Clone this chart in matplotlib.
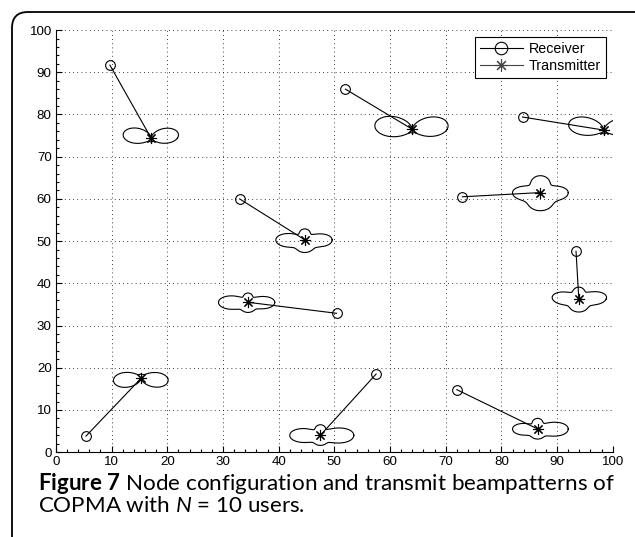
import numpy as np
import matplotlib.pyplot as plt
from matplotlib.patches import FancyBboxPatch
from matplotlib.transforms import IdentityTransform
from matplotlib.lines import Line2D
from matplotlib.ticker import MultipleLocator

plt.rcParams['font.family'] = ['Liberation Sans', 'DejaVu Sans']
plt.rcParams['mathtext.fontset'] = 'custom'
plt.rcParams['mathtext.rm'] = 'Lato'
plt.rcParams['mathtext.it'] = 'Lato:italic'
plt.rcParams['mathtext.bf'] = 'Lato:bold'

# receiver / transmitter positions
rx = [9.7, 52.0, 83.8, 33.0, 73.0, 93.4, 50.4, 5.4, 57.5, 72.0]
ry = [91.7, 86.0, 79.4, 60.0, 60.5, 47.6, 32.9, 3.8, 18.5, 14.8]
tx = [17.1, 64.0, 98.4, 44.7, 87.0, 93.9, 34.5, 15.3, 47.5, 86.5]
ty = [74.4, 76.5, 76.3, 50.3, 61.5, 36.3, 35.5, 17.5, 4.0, 5.5]

# beampattern lobes of each transmitter: direction (deg), length, sharpness
lobe_dirs = [[12, 168, 270], [10, 170, 270], [15, 165, 270],
             [0, 180, 90, 270], [0, 180, 90, 270], [5, 175, 90, 270],
             [0, 180, 90, 270], [-8, 188, 90], [0, 180, 90, 270],
             [0, 180, 90, 270]]
lobe_len = [[5.0, 5.1, 0.9], [6.5, 6.8, 0.9], [6.0, 6.5, 0.9],
            [4.9, 5.2, 2.6, 3.0], [5.0, 5.0, 4.0, 4.3], [5.0, 4.8, 2.8, 3.1],
            [4.8, 5.3, 2.2, 2.4], [4.9, 5.0, 1.0], [6.0, 5.5, 2.5, 2.4],
            [5.5, 4.5, 2.5, 2.4]]
lobe_pow = [[2.5, 2.5, 1], [2.5, 2.5, 1], [3, 3, 1],
            [4, 4, 2, 0.7], [4, 4, 1.5, 0.8], [4, 4, 2, 0.7],
            [4, 4, 2, 0.7], [2.5, 2.5, 1], [4, 4, 2, 0.7],
            [4, 4, 2, 0.7]]

fig = plt.figure(figsize=(6.35, 5.37), dpi=100)
ax = fig.add_axes([0.088, 0.158, 0.877, 0.786])

theta = np.linspace(0, 2 * np.pi, 721)
for i in range(len(tx)):
    r2 = np.zeros_like(theta)
    for d, a, p in zip(lobe_dirs[i], lobe_len[i], lobe_pow[i]):
        c = np.clip(np.cos(theta - np.radians(d)), 0, None)
        r2 += (a * c ** p) ** 2
    r = np.sqrt(r2)
    ax.plot(tx[i] + r * np.cos(theta), ty[i] + r * np.sin(theta),
            color='black', lw=0.8)

for i in range(len(tx)):
    ax.plot([rx[i], tx[i]], [ry[i], ty[i]], color='black', lw=0.8)
ax.plot(rx, ry, 'o', color='black', mfc='none', ms=7, mew=0.8)
ax.plot(tx, ty, marker=(8, 2, 0), ls='none', color='black', ms=8, mew=0.8)

ax.set_xlim(0, 100)
ax.set_ylim(0, 100)
ax.xaxis.set_major_locator(MultipleLocator(10))
ax.yaxis.set_major_locator(MultipleLocator(10))
ax.xaxis.set_minor_locator(MultipleLocator(2))
ax.yaxis.set_minor_locator(MultipleLocator(2))
ax.tick_params(which='both', direction='in', labelsize=9.6, width=0.8)
ax.tick_params(which='major', length=4.5, pad=3)
ax.tick_params(which='minor', length=2)
ax.grid(True, which='major', color='black', lw=0.6, ls=(0, (1, 4)))
ax.spines['top'].set_visible(False)
ax.spines['right'].set_visible(False)
ax.patch.set_alpha(0)

handles = [Line2D([], [], color='black', lw=0.8, marker='o', mfc='none', ms=9, mew=0.8),
           Line2D([], [], color='#444444', lw=0.8, marker=(8, 2, 0), ms=9, mew=0.8)]
leg = ax.legend(handles, ['Receiver', 'Transmitter'], loc='upper right',
                bbox_to_anchor=(0.9874, 0.9834), borderaxespad=0, fontsize=10.3,
                fancybox=False, framealpha=1, edgecolor='black',
                handlelength=3.0, handletextpad=0.4, labelspacing=0.2,
                borderpad=0.35)
leg.get_frame().set_linewidth(0.8)

border = FancyBboxPatch((12, -40), 660, 565, boxstyle='round,pad=0,rounding_size=16',
                        transform=IdentityTransform(), fill=False,
                        edgecolor='black', lw=1.3)
fig.patches.append(border)

t1 = fig.text(38 / 635, 1 - 483 / 537, r'$\mathbf{Figure\ 7}$ Node configuration and transmit beampatterns of',
              family='Lato', fontsize=12, va='center', ha='left')
t2 = fig.text(38 / 635, 1 - 506 / 537, r'COPMA with $N$ = 10 users.',
              family='Lato', fontsize=12, va='center', ha='left')
fig.canvas.draw()
w = t1.get_window_extent(fig.canvas.get_renderer()).width
size = 12 * 575 / w
t1.set_fontsize(size)
t2.set_fontsize(size)

fig.savefig('out.png', dpi=100)
